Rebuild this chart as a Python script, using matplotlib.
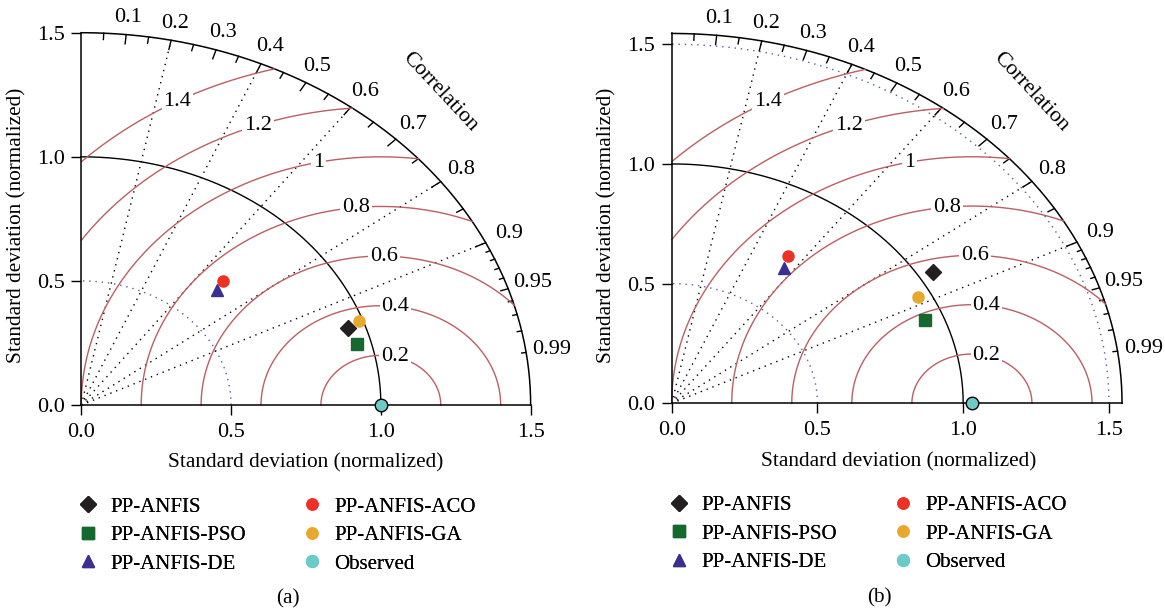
import numpy as np
import matplotlib
matplotlib.use('Agg')
import matplotlib.pyplot as plt
from matplotlib.lines import Line2D

plt.rcParams['font.family'] = ['Liberation Serif', 'DejaVu Serif']

# model names, marker styles and colours
models = ['PP-ANFIS', 'PP-ANFIS-PSO', 'PP-ANFIS-DE', 'PP-ANFIS-ACO', 'PP-ANFIS-GA']
markers = ['D', 's', '^', 'o', 'o']
colors = ['#231f20', '#15692f', '#3b2f8f', '#ee3124', '#e8a82e']
msizes = [8.5, 8.5, 9, 8, 8]

# panel (a): normalized standard deviation and correlation of each model
sd_a = [0.942, 0.954, 0.648, 0.690, 0.988]
corr_a = [0.944, 0.966, 0.700, 0.687, 0.939]
ref_sd_a = 1.0

# panel (b)
sd_b = [1.051, 0.936, 0.683, 0.734, 0.954]
corr_b = [0.854, 0.928, 0.564, 0.542, 0.885]
ref_sd_b = 1.03

rms_levels = [0.2, 0.4, 0.6, 0.8, 1.0, 1.2, 1.4]
rms_labels = ['0.2', '0.4', '0.6', '0.8', '1', '1.2', '1.4']
rms_label_angle = [76, 83, 89, 96, 102, 110, 119]
corr_labels = [0.1, 0.2, 0.3, 0.4, 0.5, 0.6, 0.7, 0.8, 0.9, 0.95, 0.99]
corr_med = [0.05, 0.15, 0.25, 0.35, 0.45, 0.55, 0.65, 0.75, 0.85, 0.95]
corr_small = [0.91, 0.92, 0.93, 0.94, 0.96, 0.97, 0.98, 0.99]
corr_rays = [0.2, 0.4, 0.6, 0.8, 0.9]
sd_ticks = [0.0, 0.5, 1.0, 1.5]

RED = '#bb5f62'
BLUE = '#4f5fa8'
FS = 16


def taylor(ax, sd, corr, ref_sd, arcs_blue):
    R = 1.5 * ref_sd
    t = np.linspace(0, np.pi / 2, 400)

    # outer arc and reference arc
    ax.plot(R * np.cos(t), R * np.sin(t), color='black', lw=1.1)
    ax.plot(np.cos(t), np.sin(t), color='black', lw=1.0)
    for r in arcs_blue:
        ax.plot(r * np.cos(t), r * np.sin(t), color=BLUE, lw=1.0,
                ls=(0, (1, 3.5)))

    # correlation rays
    for c in corr_rays:
        a = np.arccos(c)
        ax.plot([0, R * np.cos(a)], [0, R * np.sin(a)], color='black',
                lw=1.0, ls=(0, (1, 3.5)))

    # correlation ticks
    for vals, f in [(corr_labels[:9], 0.975), (corr_med, 0.983), (corr_small, 0.99)]:
        for c in vals:
            a = np.arccos(c)
            ax.plot([R * np.cos(a), f * R * np.cos(a)],
                    [R * np.sin(a), f * R * np.sin(a)], color='black', lw=1.0)
    for c in corr_labels:
        a = np.arccos(c)
        rl = (1.044 + 0.014 * c) * R
        ax.text(rl * np.cos(a), rl * np.sin(a), str(c),
                ha='center', va='center', fontsize=FS)
    a = np.radians(46.5)
    ax.text(1.16 * R * np.cos(a), 1.16 * R * np.sin(a), 'Correlation',
            ha='center', va='center', rotation=-47, fontsize=FS,
            rotation_mode='anchor')

    # centered RMS difference contours
    th = np.linspace(0, np.pi, 3000)
    for g, lab, ang in zip(rms_levels, rms_labels, rms_label_angle):
        gr = g * ref_sd
        x = ref_sd + gr * np.cos(th)
        y = gr * np.sin(th)
        x = np.where((x >= 0) & (x * x + y * y <= R * R), x, np.nan)
        ax.plot(x, y, color=RED, lw=1.0)
        al = np.radians(ang)
        ax.text(ref_sd + gr * np.cos(al), gr * np.sin(al), lab,
                ha='center', va='center', fontsize=FS, zorder=4,
                bbox=dict(facecolor='white', edgecolor='none', pad=1.5))

    # points
    for s, c, m, col, ms in zip(sd, corr, markers, colors, msizes):
        a = np.arccos(c)
        ax.plot(s * np.cos(a), s * np.sin(a), marker=m, color=col, ms=ms,
                ls='none', zorder=5, clip_on=False)
    ax.plot(ref_sd, 0, marker='o', ms=9, mfc='#6ccbc8', mec='black',
            mew=1.0, ls='none', zorder=6, clip_on=False)

    # axes
    for k in ['top', 'right']:
        ax.spines[k].set_visible(False)
    ax.spines['left'].set_position(('data', 0))
    ax.spines['bottom'].set_position(('data', 0))
    ax.spines['left'].set_bounds(0, R)
    ax.spines['bottom'].set_bounds(0, R)
    ax.spines['left'].set_linewidth(1.1)
    ax.spines['bottom'].set_linewidth(1.1)
    ax.set_xticks(sd_ticks)
    ax.set_yticks(sd_ticks)
    ax.set_xticklabels(['%.1f' % v for v in sd_ticks])
    ax.set_yticklabels(['%.1f' % v for v in sd_ticks])
    ax.tick_params(direction='out', length=7, width=1.0, labelsize=FS)
    ax.tick_params(axis='x', pad=6)
    ax.tick_params(axis='y', pad=5)
    ax.patch.set_visible(False)
    for line in ax.lines:
        line.set_clip_on(False)
    for txt in ax.texts:
        txt.set_clip_on(False)


fig = plt.figure(figsize=(11.65, 6.12), dpi=100)

ax1 = fig.add_axes([0.05691, 0.31797, 0.42429, 0.66912])
ax1.set_xlim(-0.05, 1.6)
ax1.set_ylim(-0.05, 1.6)
taylor(ax1, sd_a, corr_a, ref_sd_a, [0.5])
ax1.text(0.75, -0.235, 'Standard deviation (normalized)', ha='center',
         va='center', fontsize=15.3)
ax1.text(-0.215, 0.725, 'Standard deviation (normalized)', ha='center',
         va='center', rotation=90, fontsize=15.3)

ax2 = fig.add_axes([0.56403, 0.32141, 0.42537, 0.66500])
ax2.set_xlim(-0.05, 1.65)
ax2.set_ylim(-0.05, 1.65)
taylor(ax2, sd_b, corr_b, ref_sd_b, [0.5, 1.5])
ax2.text(0.78, -0.245, 'Standard deviation (normalized)', ha='center',
         va='center', fontsize=15.3)
ax2.text(-0.223, 0.745, 'Standard deviation (normalized)', ha='center',
         va='center', rotation=90, fontsize=15.3)

# legends
handles = [Line2D([], [], marker=m, color=c, ms=ms, ls='none')
           for m, c, ms in zip(markers, colors, msizes)]
handles.append(Line2D([], [], marker='o', ms=8.5, color='#6ccbc8', ls='none'))
labels = models + ['Observed']
W, H = 1165.0, 612.0
for x1, x2, ytop in [(78, 302, 497), (668.6, 892.6, 495.5)]:
    for x, idx in [(x1, [0, 1, 2]), (x2, [3, 4, 5])]:
        leg = fig.legend([handles[i] for i in idx], [labels[i] for i in idx],
                         loc='upper left', bbox_to_anchor=(x / W, 1 - ytop / H),
                         frameon=False, borderpad=0, borderaxespad=0,
                         handlelength=1.0, handletextpad=0.55,
                         labelspacing=0.43, fontsize=15)
        fig.add_artist(leg)

fig.text(288.3 / W, 1 - 599.3 / H, '(a)', ha='center', va='center', fontsize=15.3)
fig.text(879 / W, 1 - 598.3 / H, '(b)', ha='center', va='center', fontsize=15.3)

fig.savefig('out.png', dpi=100)
